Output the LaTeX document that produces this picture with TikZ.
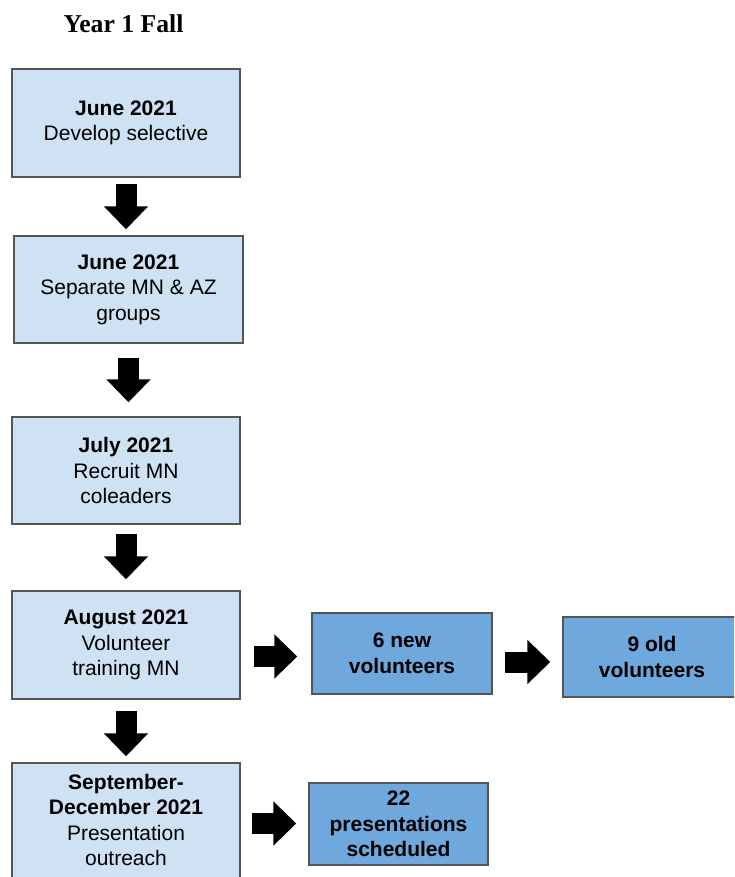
\documentclass[tikz,border=0pt]{standalone}
\usepackage{fontspec}
\setmainfont{Liberation Sans}
\newfontfamily\titlefont{Liberation Serif}
\usetikzlibrary{arrows.meta}
\definecolor{lightbox}{HTML}{CFE2F3}
\definecolor{darkbox}{HTML}{6FA8DC}
\definecolor{edgegray}{HTML}{555555}
\tikzset{
  stagebox/.style={draw=edgegray, line width=1.4pt, fill=lightbox, minimum width=228pt, minimum height=108pt, align=center, inner sep=0pt, font=\fontsize{21}{25.5}\selectfont},
  resultbox/.style={draw=edgegray, line width=1.4pt, fill=darkbox, minimum width=180pt, minimum height=81pt, align=center, inner sep=0pt, font=\fontsize{21}{25.5}\selectfont\bfseries},
  blockarrow/.style={draw=black, line width=21pt, -{Triangle[length=23pt,width=43pt]}},
}
\begin{document}
\begin{tikzpicture}[x=1pt,y=-1pt]
\useasboundingbox (0,0) rectangle (734,877);
\clip (0,0) rectangle (734,877);
\node[anchor=base, font=\titlefont\fontsize{25.7}{30}\selectfont\bfseries] (title) at (123.5,33) {Year 1 Fall};
\node[stagebox] (b1) at (126,123) {\textbf{June 2021}\\Develop selective};
\node[stagebox, minimum width=229pt, minimum height=107pt] (b2) at (128.5,289.5) {\textbf{June 2021}\\Separate MN \& AZ\\groups};
\node[stagebox, minimum height=107pt] (b3) at (126,470.5) {\textbf{July 2021}\\Recruit MN\\coleaders};
\node[stagebox] (b4) at (126,645) {\textbf{August 2021}\\Volunteer\\training MN};
\node[stagebox, minimum height=134pt] (b5) at (126,830) {};
\node[align=center, inner sep=0pt, font=\fontsize{21}{25.3}\selectfont] (b5t) at (126,820) {\textbf{September-}\\\textbf{December 2021}\\Presentation\\outreach};
\node[resultbox, minimum height=81pt] (b6) at (402,653.5) {6 new\\volunteers};
\node[resultbox, minimum width=210pt, minimum height=80pt] (b7) at (668,657) {};
\node[align=center, inner sep=0pt, font=\fontsize{21}{25.5}\selectfont\bfseries] (b7t) at (652,657) {9 old\\volunteers};
\node[resultbox, minimum width=179pt, minimum height=82pt] (b8) at (398.5,824) {22\\presentations\\scheduled};
\coordinate (h1) at (0,656.5);
\coordinate (h2) at (0,662);
\coordinate (h3) at (0,823.5);
\draw[blockarrow, shorten <=6pt, shorten >=6pt] (b1.south) -- (b1.south |- b2.north);
\draw[blockarrow, shorten <=14pt, shorten >=14pt] (b2.south) -- (b2.south |- b3.north);
\draw[blockarrow, shorten <=9pt, shorten >=11pt] (b3.south) -- (b3.south |- b4.north);
\draw[blockarrow, shorten <=11pt, shorten >=6pt] (b4.south) -- (b4.south |- b5.north);
\draw[blockarrow, shorten <=13pt, shorten >=14pt] (b4.east |- h1) -- (b6.west |- h1);
\draw[blockarrow, shorten <=12pt, shorten >=12pt] (b6.east |- h2) -- (b7.west |- h2);
\draw[blockarrow, shorten <=11pt, shorten >=12pt] (b5.east |- h3) -- (b8.west |- h3);
\end{tikzpicture}
\end{document}
